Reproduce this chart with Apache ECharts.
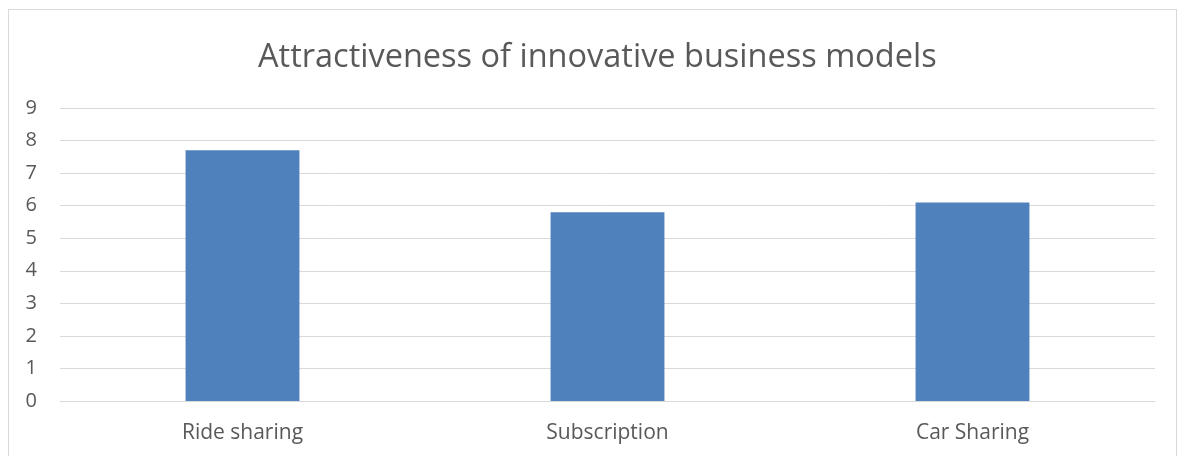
<!DOCTYPE html>
<html><head><meta charset="utf-8">
<script src="https://cdn.jsdelivr.net/npm/echarts@6/dist/echarts.min.js"></script>
<style>
html,body{margin:0;padding:0;background:#fff;}
#frame{position:absolute;left:8px;top:9px;width:1169px;height:460px;border:1px solid #d9d9d9;box-sizing:border-box;}
#chart{position:absolute;left:0;top:0;width:1186px;height:456px;}
</style></head>
<body>
<div id="frame"></div>
<div id="chart"></div>
<script>
const titleText = 'Attractiveness of innovative business models';
const categories = ['Ride sharing', 'Subscription', 'Car Sharing'];
const values = [7.7, 5.8, 6.1];
const yTicks = {min: 0, max: 9, interval: 1};

const chart = echarts.init(document.getElementById('chart'), null, {renderer: 'canvas'});
chart.setOption({
  animation: false,
  title: {
    text: titleText, left: 253, top: 36,
    textStyle: {fontFamily: 'Open Sans', fontSize: 32.5, fontWeight: 'normal', color: '#595959'}
  },
  grid: {left: 60, right: 31, top: 108, bottom: 55},
  xAxis: {
    type: 'category', data: categories,
    axisLine: {show: true, lineStyle: {color: '#d9d9d9', width: 1}},
    axisTick: {show: false},
    axisLabel: {fontFamily: 'Open Sans', fontSize: 21, color: '#595959', margin: 22}
  },
  yAxis: {
    type: 'value', min: yTicks.min, max: yTicks.max, interval: yTicks.interval,
    axisLine: {show: false}, axisTick: {show: false},
    splitLine: {lineStyle: {color: '#d9d9d9', width: 1}},
    axisLabel: {fontFamily: 'Open Sans', fontSize: 20, color: '#595959', margin: 23}
  },
  series: [{
    type: 'bar', data: values, barWidth: '31.2%',
    itemStyle: {color: '#4f81bd'}
  }]
});
</script>
</body></html>
